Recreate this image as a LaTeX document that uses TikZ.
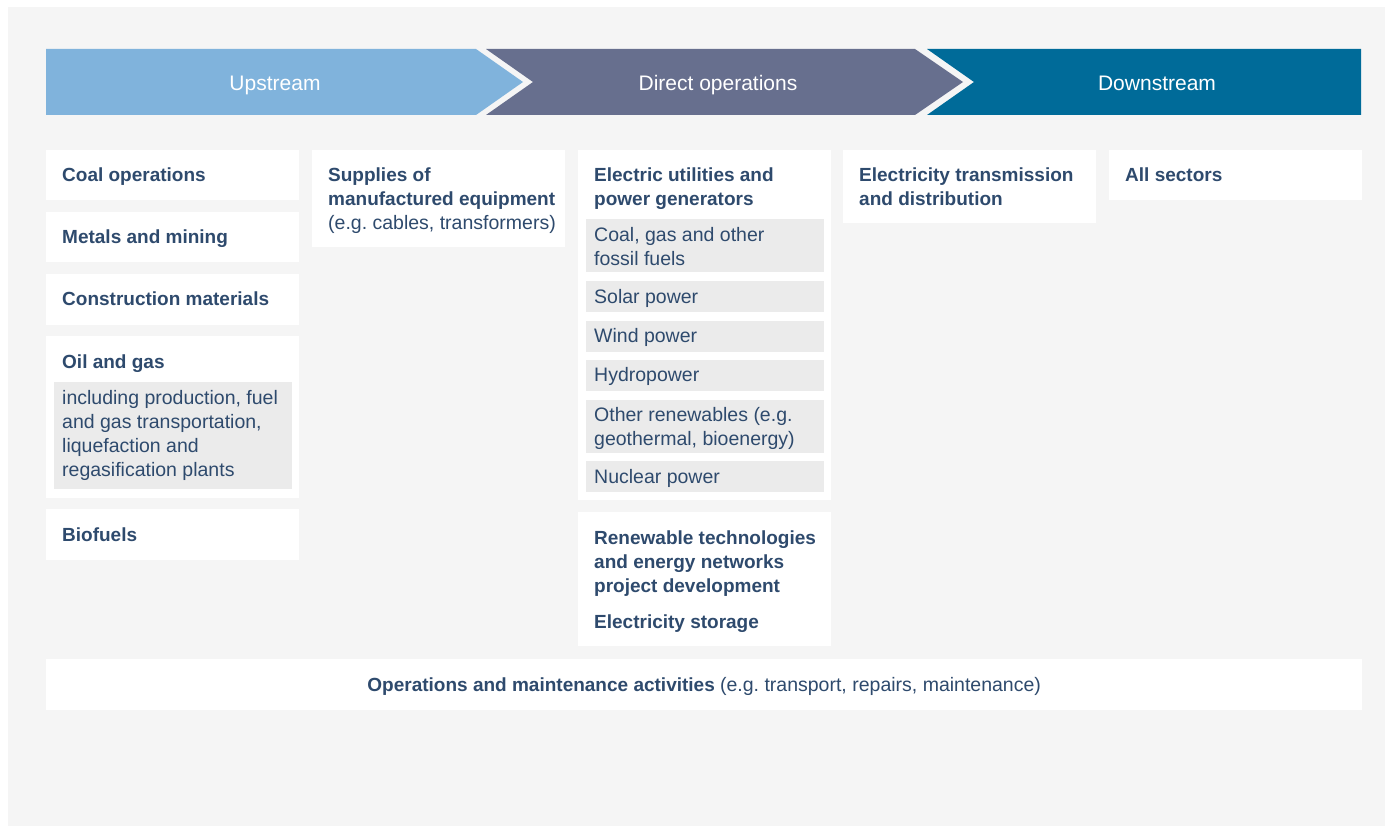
\documentclass[tikz,border=0pt]{standalone}
\usepackage{fontspec}
\setmainfont{Liberation Sans}
\definecolor{panel}{HTML}{F5F5F5}
\definecolor{subgray}{HTML}{EBEBEB}
\definecolor{navy}{HTML}{2E4A6D}
\definecolor{upcol}{HTML}{80B3DC}
\definecolor{opscol}{HTML}{676F8E}
\definecolor{downcol}{HTML}{006B99}

\tikzset{
  headtext/.style={text=white, anchor=base, font=\fontsize{21}{24}\selectfont},
  box/.style={fill=white, anchor=north west, minimum width=253pt, inner sep=0pt},
  subbox/.style={fill=subgray, anchor=north west, minimum width=238pt, inner sep=0pt},
  title/.style={anchor=north west, inner sep=0pt, align=left, text=navy,
    font=\bfseries\fontsize{19}{24}\selectfont},
  plain/.style={anchor=north west, inner sep=0pt, align=left, text=navy,
    font=\fontsize{19.5}{24}\selectfont}
}

\begin{document}
\begin{tikzpicture}[x=1pt,y=-1pt]
\useasboundingbox (0,0) rectangle (1389,826);
\fill[white] (0,0) rectangle (1389,826);
\fill[panel] (8,7) rectangle (1385,826);

\fill[upcol] (46,49) -- (476,49) -- (523,82) -- (476,115) -- (46,115) -- cycle;
\node[headtext] (up) at (275,90.5) {Upstream};
\fill[opscol] (486,49) -- (915,49) -- (963,82) -- (915,115) -- (486,115) -- (533,82) -- cycle;
\node[headtext] (ops) at (718,90.5) {Direct operations};
\fill[downcol] (927,49) -- (1361,49) -- (1361,115) -- (927,115) -- (974,82) -- cycle;
\node[headtext] (down) at (1157,90.5) {Downstream};

\node[box, minimum height=50pt] (coal) at (46,150) {};
\node[title] (coal-t) at ([shift={(16,18)}]coal.north west) {Coal operations};
\node[box, minimum height=50pt] (metals) at (46,212) {};
\node[title] (metals-t) at ([shift={(16,18)}]metals.north west) {Metals and mining};
\node[box, minimum height=51pt] (constr) at (46,274) {};
\node[title] (constr-t) at ([shift={(16,18)}]constr.north west) {Construction materials};
\node[box, minimum height=162pt] (oil) at (46,336) {};
\node[title] (oil-t) at ([shift={(16,18.5)}]oil.north west) {Oil and gas};
\node[subbox, minimum height=107pt] (oilsub) at (54,382) {};
\node[plain] (oilsub-t) at ([shift={(8,8)}]oilsub.north west) {including production, fuel\\and gas transportation,\\liquefaction and\\regasification plants};
\node[box, minimum height=51pt] (bio) at (46,509) {};
\node[title] (bio-t) at ([shift={(16,18.5)}]bio.north west) {Biofuels};

\node[box, minimum height=97pt] (supply) at (312,150) {};
\node[title] (supply-t) at ([shift={(16,18)}]supply.north west) {Supplies of\\manufactured equipment\\\mdseries\fontsize{19.5}{24}\selectfont(e.g.\ cables, transformers)};

\node[box, minimum height=350pt] (util) at (578,150) {};
\node[title] (util-t) at ([shift={(16,18)}]util.north west) {Electric utilities and\\power generators};
\node[subbox, minimum height=53pt] (fossil) at (586,219) {};
\node[plain] (fossil-t) at ([shift={(8,8)}]fossil.north west) {Coal, gas and other\\fossil fuels};
\node[subbox, minimum height=31pt] (solar) at (586,281) {};
\node[plain] (solar-t) at ([shift={(8,8)}]solar.north west) {Solar power};
\node[subbox, minimum height=31pt] (wind) at (586,321) {};
\node[plain] (wind-t) at ([shift={(8,7)}]wind.north west) {Wind power};
\node[subbox, minimum height=31pt] (hydro) at (586,360) {};
\node[plain] (hydro-t) at ([shift={(8,7)}]hydro.north west) {Hydropower};
\node[subbox, minimum height=53pt] (otherren) at (586,400) {};
\node[plain] (otherren-t) at ([shift={(8,7)}]otherren.north west) {Other renewables (e.g.\\geothermal, bioenergy)};
\node[subbox, minimum height=31pt] (nuclear) at (586,461) {};
\node[plain] (nuclear-t) at ([shift={(8,8)}]nuclear.north west) {Nuclear power};
\node[box, minimum height=134pt] (renew) at (578,512) {};
\node[title] (renew-t) at ([shift={(16,19)}]renew.north west) {Renewable technologies\\and energy networks\\project development\\[12pt]Electricity storage};

\node[box, minimum height=73pt] (trans) at (843,150) {};
\node[title] (trans-t) at ([shift={(16,18)}]trans.north west) {Electricity transmission\\and distribution};
\node[box, minimum height=50pt] (all) at (1109,150) {};
\node[title] (all-t) at ([shift={(16,18)}]all.north west) {All sectors};

\node[box, minimum width=1316pt, minimum height=51pt] (om) at (46,659) {};
\node[title, anchor=north] (om-t) at ([shift={(0,18)}]om.north) {Operations and maintenance activities \mdseries\fontsize{19.5}{24}\selectfont(e.g.\ transport, repairs, maintenance)};
\end{tikzpicture}
\end{document}
